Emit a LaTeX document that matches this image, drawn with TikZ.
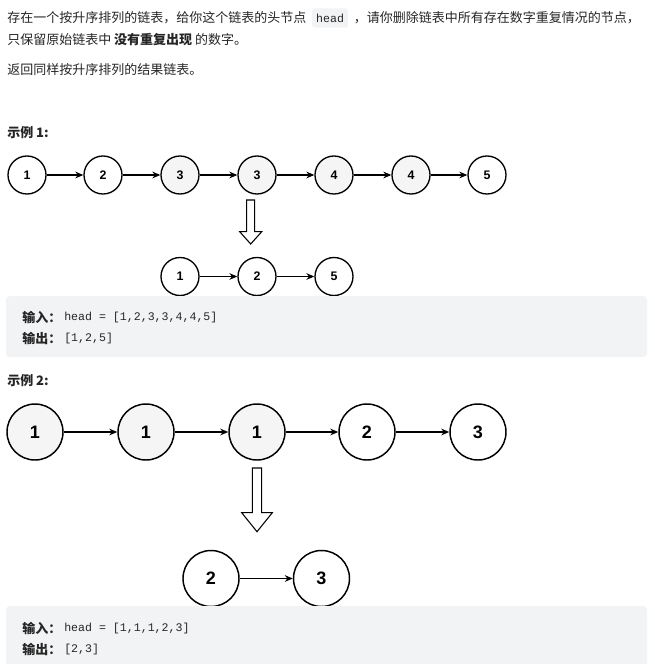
\documentclass[tikz,border=0pt]{standalone}
\usepackage{fontspec}
\setmainfont{Liberation Sans}
\setmonofont{Liberation Mono}
\newfontfamily\cjk{Noto Sans CJK SC}
\usetikzlibrary{arrows.meta,positioning}
\definecolor{txt}{HTML}{262626}
\definecolor{boxbg}{HTML}{F2F3F5}
\definecolor{nodegray}{HTML}{F5F5F5}
\tikzset{
  p/.style={anchor=west,inner sep=0pt,text=txt,font=\cjk\fontsize{9.75pt}{11pt}\selectfont},
  lbl/.style={anchor=west,inner sep=0pt,text=txt,font=\cjk\bfseries\fontsize{9.75pt}{11pt}\selectfont},
  code/.style={inner sep=0pt,text=txt,font=\ttfamily\fontsize{8.7pt}{10pt}\selectfont},
  sm/.style={circle,draw=black,line width=1pt,minimum size=28.5pt,inner sep=0pt,font=\bfseries\fontsize{9.3pt}{10pt}\selectfont},
  lg/.style={circle,draw=black,line width=1.1pt,minimum size=42pt,inner sep=0pt,font=\bfseries\fontsize{13.5pt}{15pt}\selectfont},
  wf/.style={fill=white},
  gf/.style={fill=nodegray},
  arr/.style={line width=0.8pt,-{Stealth[length=6pt,width=5pt]}},
  bigarr/.style={draw=black,line width=0.8pt,fill=white,line join=miter},
  codebox/.style={fill=boxbg,rounded corners=3pt,draw=none}
}
\begin{document}
\begin{tikzpicture}[x=0.75pt,y=-0.75pt]
\useasboundingbox[fill=white] (0,0) rectangle (654,664);
% header text
\node[p] (t1a) at (7,18) {存在一个按升序排列的链表，给你这个链表的头节点};
\node[code,fill=boxbg,rounded corners=2pt,inner xsep=3pt,inner ysep=4pt,right=4pt of t1a] (hd) {head};
\node[p,right=4pt of hd] (t1b) {，请你删除链表中所有存在数字重复情况的节点，};
\node[p] (t2) at (7,40) {只保留原始链表中 {\bfseries 没有重复出现} 的数字。};
\node[p] (t3) at (7,70) {返回同样按升序排列的结果链表。};
% example 1
\node[lbl] (ex1) at (7,133) {示例 1:};
\node[sm,wf] (a1) at (27,175) {1};
\node[sm,wf] (a2) at (103,175) {2};
\node[sm,gf] (a3) at (180,175) {3};
\node[sm,gf] (a4) at (257,175) {3};
\node[sm,gf] (a5) at (334,175) {4};
\node[sm,gf] (a6) at (411,175) {4};
\node[sm,wf] (a7) at (487,175) {5};
\foreach \i/\j in {a1/a2,a2/a3,a3/a4,a4/a5,a5/a6,a6/a7} \draw[arr] (\i) -- (\j);
\draw[bigarr] (246.7,200) -- (254.7,200) -- (254.7,231.7) -- (261.7,231.7) -- (250.7,244) -- (239.7,231.7) -- (246.7,231.7) -- cycle;
\node[sm,wf] (b1) at (180,276.5) {1};
\node[sm,wf] (b2) at (257,276.5) {2};
\node[sm,wf] (b3) at (334,276.5) {5};
\draw[arr] (b1) -- (b2);
\draw[arr] (b2) -- (b3);
\fill[codebox] (6,296) rectangle (647,357);
\node[lbl] (in1) at (22,317) {输入：};
\node[code,anchor=west] (in1v) at (64,317) {head = [1,2,3,3,4,4,5]};
\node[lbl] (out1) at (22,338) {输出：};
\node[code,anchor=west] (out1v) at (64,338) {[1,2,5]};
% example 2
\node[lbl] (ex2) at (7,381) {示例 2:};
\node[lg,gf] (c1) at (35,432) {1};
\node[lg,gf] (c2) at (146,432) {1};
\node[lg,gf] (c3) at (257,432) {1};
\node[lg,wf] (c4) at (367,432) {2};
\node[lg,wf] (c5) at (478,432) {3};
\foreach \i/\j in {c1/c2,c2/c3,c3/c4,c4/c5} \draw[arr] (\i) -- (\j);
\draw[bigarr] (252.3,468) -- (261.7,468) -- (261.7,512.7) -- (272.3,512.7) -- (257,531.7) -- (241.7,512.7) -- (252.3,512.7) -- cycle;
\node[lg,wf] (d1) at (211,578.5) {2};
\node[lg,wf] (d2) at (321.5,578.5) {3};
\draw[arr] (d1) -- (d2);
\fill[codebox] (6,606) rectangle (647,668);
\node[lbl] (in2) at (22,628) {输入：};
\node[code,anchor=west] (in2v) at (64,628) {head = [1,1,1,2,3]};
\node[lbl] (out2) at (22,649) {输出：};
\node[code,anchor=west] (out2v) at (64,649) {[2,3]};
\end{tikzpicture}
\end{document}
